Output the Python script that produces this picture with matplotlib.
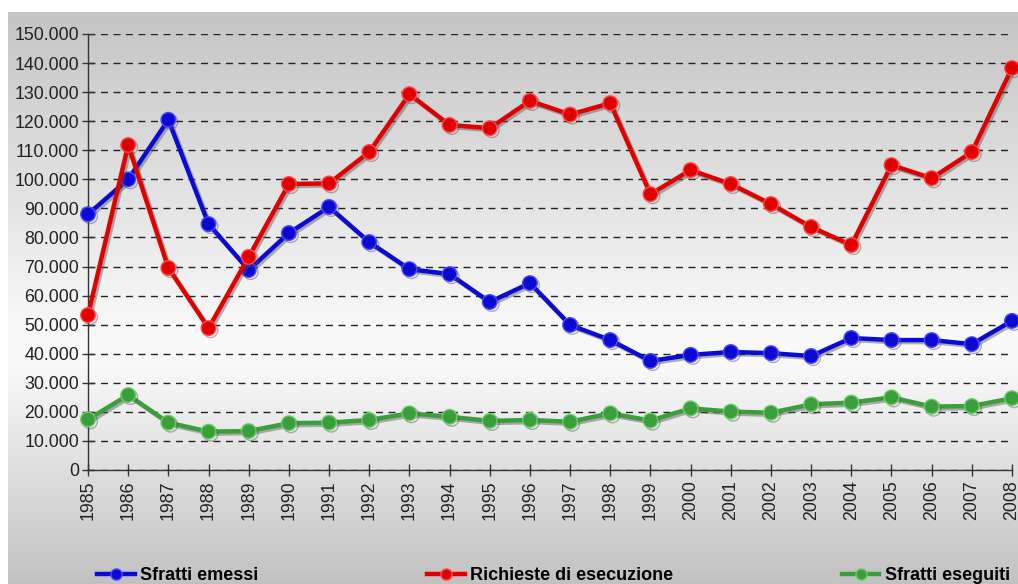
import matplotlib
matplotlib.use("Agg")
import matplotlib.pyplot as plt
import matplotlib.patheffects as pe
from matplotlib.ticker import FuncFormatter, MultipleLocator
import numpy as np

years = list(range(1985, 2009))
sfratti_emessi = [88000, 100000, 120500, 84600, 68800, 81500, 90500, 78400, 69100, 67400,
                  57800, 64300, 49900, 44700, 37500, 39600, 40600, 40200, 39200, 45400,
                  44700, 44700, 43300, 51300]
richieste_esecuzione = [53300, 111800, 69500, 48800, 73300, 98400, 98600, 109400, 129300, 118700,
                        117600, 127000, 122300, 126200, 94900, 103200, 98400, 91500, 83600, 77400,
                        104900, 100400, 109400, 138300]
sfratti_eseguiti = [17400, 25800, 16300, 13200, 13400, 16100, 16300, 17200, 19500, 18300,
                    16900, 17200, 16600, 19500, 17000, 21200, 20100, 19700, 22600, 23200,
                    25000, 21800, 22000, 24700]
labels = ["Sfratti emessi", "Richieste di esecuzione", "Sfratti eseguiti"]

plt.rcParams['font.family'] = ['Liberation Sans', 'DejaVu Sans']

W, H = 1018, 584
fig = plt.figure(figsize=(W / 100, H / 100), dpi=100, facecolor='white')

# background gradient
bg = fig.add_axes([8 / W, 0, 1 - 8 / W, (H - 12) / H], zorder=0)
t = np.linspace(0, 1, 300)
stops_t = [0.0, 0.55, 0.62, 1.0]
stops_v = [0.77, 0.975, 0.975, 0.76]
vals = np.interp(t, stops_t, stops_v)
img = np.repeat(vals[:, None], 2, axis=1)
bg.imshow(np.dstack([img, img, img]), aspect='auto', extent=[0, 1, 0, 1], origin='upper')
bg.set_axis_off()

ax = fig.add_axes([88 / W, 1 - 470 / H, (1012 - 88) / W, (470 - 34) / H], zorder=1)
ax.patch.set_alpha(0)

series = [
    (sfratti_emessi, '#0a0ad2', '#4a4aff'),
    (richieste_esecuzione, '#e00000', '#ff4a4a'),
    (sfratti_eseguiti, '#3a9e3a', '#6ccc6c'),
]
handles = []
for (vals_s, col, edge), lab in zip(series, labels):
    ln, = ax.plot(years, vals_s, color=col, lw=3.2, marker='o', ms=10.5,
                  markerfacecolor=col, markeredgecolor=edge, markeredgewidth=1.0,
                  label=lab, clip_on=False, zorder=3,
                  path_effects=[pe.SimpleLineShadow(offset=(1.5, -1.5), shadow_color='#555555', alpha=0.45),
                                pe.Normal()])
    handles.append(ln)

ax.set_xlim(1985, 2008)
ax.set_ylim(0, 150000)
ax.yaxis.set_major_locator(MultipleLocator(10000))
ax.yaxis.set_major_formatter(FuncFormatter(lambda v, p: f"{int(v):,}".replace(",", ".")))
ax.set_xticks(years)
ax.set_xticklabels([str(y) for y in years], rotation=90)

ax.grid(axis='y', color='#222222', linestyle=(0, (5, 4)), linewidth=1.0, zorder=1)
ax.set_axisbelow(True)
for s in ['top', 'right']:
    ax.spines[s].set_visible(False)
for s in ['left', 'bottom']:
    ax.spines[s].set_color('#333333')
    ax.spines[s].set_linewidth(1.0)
ax.tick_params(axis='both', direction='inout', length=9, width=1.0, color='#333333',
               labelsize=12.8, labelcolor='#222222')
ax.tick_params(axis='y', pad=2)
ax.tick_params(axis='x', pad=3)

leg = fig.legend(handles=handles, labels=labels, loc='center', ncol=3, mode='expand',
                 bbox_to_anchor=(97 / W, 1 - 576 / H, (1010 - 97) / W, 0.0),
                 frameon=False, borderpad=0, borderaxespad=0, handlelength=2.1,
                 handletextpad=0.3, prop={'weight': 'bold', 'size': 13})
for h in leg.legend_handles:
    h.set_path_effects([])
    h.set_markersize(8)

fig.savefig('out.png', dpi=100, facecolor='white')
